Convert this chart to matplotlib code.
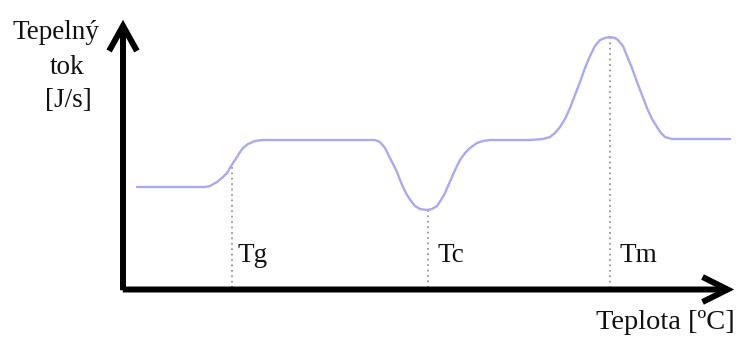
import matplotlib
matplotlib.use("Agg")
import matplotlib.pyplot as plt
from matplotlib.patches import FancyArrowPatch

# ---- data (x = temperature position, y = heat flow position, screen units) ----
temperature = [137, 160, 190, 205, 210, 217, 223, 227, 230, 233, 237, 240, 243, 248, 255, 262,
               270, 300, 340, 375,
               380, 385, 389, 393, 397, 400, 403, 407, 411, 415, 420, 427, 432, 437, 441,
               445, 448, 452, 456, 460, 465, 470, 477, 483, 490, 497,
               530, 543, 550, 555, 560, 565, 570, 575, 580, 585, 590, 595, 600, 605, 610,
               615, 618, 623, 627, 632, 637, 642, 647, 652, 657, 661, 665, 672, 680, 700, 730]
heat_flow = [187, 187, 187, 187, 186, 182, 177, 173, 168, 163, 157, 152, 148, 144, 141, 140,
             140, 140, 140, 140,
             142, 148, 156, 164, 172, 180, 187, 195, 201, 206, 209, 210, 209, 206, 200,
             193, 186, 177, 168, 160, 153, 148, 143, 141, 140, 140,
             140, 139, 137, 133, 127, 119, 108, 95, 82, 68, 56, 46, 40, 38, 37,
             38, 40, 46, 56, 68, 82, 95, 108, 119, 127, 133, 137, 139, 139, 139, 139]

transition_labels = ["Tg", "Tc", "Tm"]
transition_temp = [232, 428, 610]
transition_flow = [167, 210, 37]

ylabel_lines = ["Tepelný", "tok", "[J/s]"]
xlabel = "Teplota [ºC]"

# ---- figure ----
W, H = 741, 338
fig = plt.figure(figsize=(W / 100, H / 100), dpi=100)
ax = fig.add_axes([0, 0, 1, 1])
ax.set_xlim(0, W)
ax.set_ylim(H, 0)
ax.axis("off")

serif = ["Liberation Serif", "DejaVu Serif"]
fs = 19.5

# curve
ax.plot(temperature, heat_flow, color="#a9a9f7", lw=1.7, solid_capstyle="round",
        solid_joinstyle="round", zorder=3)

# dotted guide lines and labels
x_axis_y = 289.5
for lab, tx, ty, dx in zip(transition_labels, transition_temp, transition_flow, [5, 9, 10]):
    ax.plot([tx, tx], [ty, x_axis_y], color="#999999", lw=1.3, ls=(0, (1, 2)), zorder=2)
    ax.text(tx + dx, 262, lab, family=serif, fontsize=fs, ha="left", va="baseline",
            color="#111111")

# axes arrows
ax_x = 123
ya = FancyArrowPatch((ax_x, 293), (ax_x, 17), arrowstyle="->,head_length=0.9,head_width=0.5",
                     mutation_scale=20, lw=4.3, color="black", capstyle="butt",
                     joinstyle="miter", zorder=4)
ax.add_patch(ya)
xa = FancyArrowPatch((120, x_axis_y), (737, x_axis_y),
                     arrowstyle="->,head_length=0.9,head_width=0.45",
                     mutation_scale=20, lw=4.3, color="black", capstyle="butt",
                     joinstyle="miter", zorder=4)
ax.add_patch(xa)

# axis labels
for line, cx, by in zip(ylabel_lines, [56, 67, 68], [39, 74, 107]):
    ax.text(cx, by, line, family=serif, fontsize=fs, ha="center", va="baseline",
            color="#111111")
ax.text(596, 329, xlabel, family=serif, fontsize=20.5, ha="left", va="baseline",
        color="#111111")

fig.savefig("out.png", dpi=100)
